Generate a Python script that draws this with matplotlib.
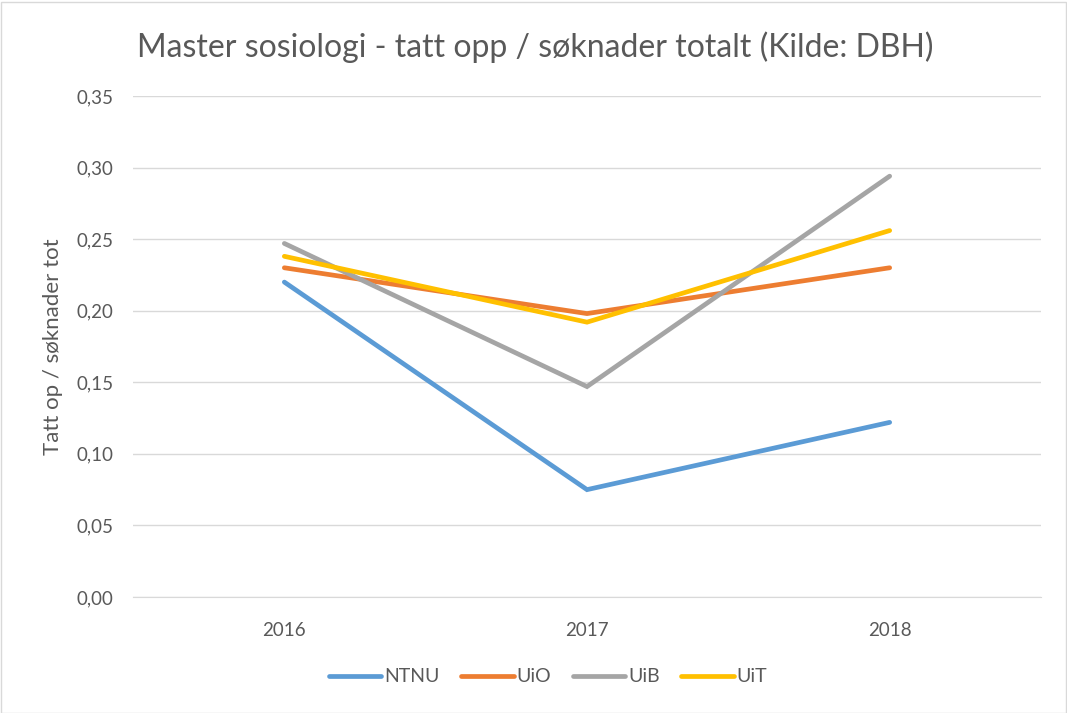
import matplotlib
matplotlib.use("Agg")
import matplotlib.pyplot as plt
from matplotlib.patches import Rectangle

plt.rcParams['font.family'] = ['Lato', 'DejaVu Sans']

years = ['2016', '2017', '2018']
ntnu = [0.220, 0.075, 0.122]
uio = [0.230, 0.198, 0.230]
uib = [0.247, 0.147, 0.294]
uit = [0.238, 0.192, 0.256]

series = [('NTNU', ntnu, '#5B9BD5'),
          ('UiO', uio, '#ED7D31'),
          ('UiB', uib, '#A5A5A5'),
          ('UiT', uit, '#FFC000')]

fig = plt.figure(figsize=(10.67, 7.13), dpi=100)
ax = fig.add_axes([133/1067, 1 - 597/713, 908/1067, 501/713])

x = range(len(years))
for name, vals, col in series:
    ax.plot(x, vals, color=col, lw=3.4, label=name, solid_capstyle='round', solid_joinstyle='miter')

ax.set_xlim(-0.5, 2.5)
ax.set_ylim(0, 0.35)
ax.set_yticks([i * 0.05 for i in range(8)])
ax.set_yticklabels([f'{i*0.05:.2f}'.replace('.', ',') for i in range(8)])
ax.set_xticks(list(x))
ax.set_xticklabels(years)
ax.yaxis.grid(True, color='#D9D9D9', lw=1)
ax.set_axisbelow(True)
for s in ['top', 'right', 'left']:
    ax.spines[s].set_visible(False)
ax.spines['bottom'].set_color('#D9D9D9')
ax.tick_params(length=0, colors='#595959', labelsize=13.5)
ax.tick_params(axis='y', pad=14)
ax.tick_params(axis='x', pad=18)
ax.set_ylabel('Tatt op / søknader tot', color='#595959', fontsize=16, labelpad=10)

fig.text(535/1067, 1 - 47/713, 'Master sosiologi - tatt opp / søknader totalt (Kilde: DBH)',
         ha='center', va='center', fontsize=23, color='#595959')

leg = ax.legend(loc='center', bbox_to_anchor=((548 - 133) / 908, (597 - 677) / 501), ncol=4, frameon=False,
                fontsize=14, handlelength=2.7, columnspacing=1.1, handletextpad=0.15)
for t in leg.get_texts():
    t.set_color('#595959')

fig.patches.append(Rectangle((0.5/1067, 0.5/713), 1 - 2/1067, 1 - 2/713, transform=fig.transFigure,
                             fill=False, edgecolor='#D9D9D9', lw=1))

fig.savefig('out.png', dpi=100)
